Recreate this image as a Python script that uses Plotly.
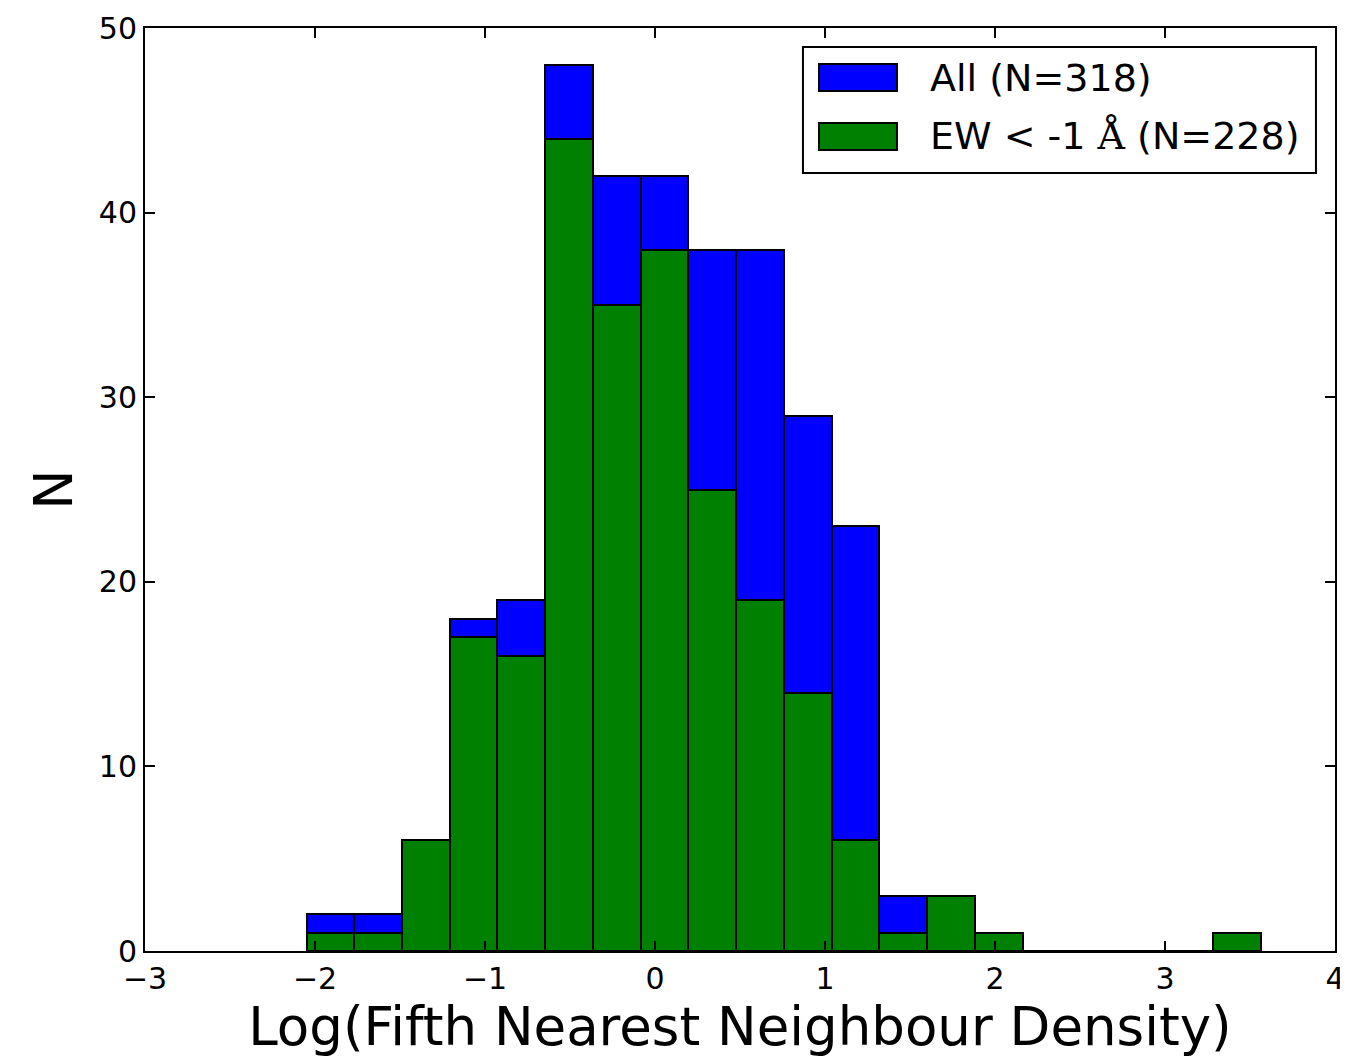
import numpy as np
import plotly.graph_objects as go

# Histogram bins (20 equal bins)
bin_start = -2.05
bin_width = 0.2808
n_bins = 20

counts_all = [2, 2, 6, 18, 19, 48, 42, 42, 38, 38, 29, 23, 3, 3, 1, 0, 0, 0, 0, 1]
counts_ew = [1, 1, 6, 17, 16, 44, 35, 38, 25, 19, 14, 6, 1, 3, 1, 0, 0, 0, 0, 1]

label_all = "All (N=318)"
label_ew = "EW &lt; -1 <span style='font-family:DejaVu Serif'>Å</span> (N=228)"

x_ticks = [-3, -2, -1, 0, 1, 2, 3, 4]
y_ticks = [0, 10, 20, 30, 40, 50]

edges = bin_start + bin_width * np.arange(n_bins + 1)
centers = (edges[:-1] + edges[1:]) / 2

BLUE = "#0000ff"
GREEN = "#008000"
FONT = "DejaVu Sans"

fig = go.Figure()
fig.add_trace(go.Bar(x=centers, y=counts_all, width=bin_width, marker=dict(color=BLUE, line=dict(color="black", width=2)),
                     name=label_all, showlegend=False))
fig.add_trace(go.Bar(x=centers, y=counts_ew, width=bin_width, marker=dict(color=GREEN, line=dict(color="black", width=2)),
                     name=label_ew, showlegend=False))

# custom legend (matplotlib style large patches)
L = dict(x0=0.5529, x1=0.9840, y0=0.8429, y1=0.9794)
fig.add_shape(type="rect", xref="paper", yref="paper", x0=L["x0"], x1=L["x1"], y0=L["y0"], y1=L["y1"],
              line=dict(color="black", width=2), fillcolor="white", layer="above")
for (y0, y1, col, txt) in [(0.9317, 0.9610, BLUE, label_all), (0.8678, 0.8971, GREEN, label_ew)]:
    fig.add_shape(type="rect", xref="paper", yref="paper", x0=0.5664, x1=0.6319, y0=y0, y1=y1,
                  line=dict(color="black", width=2), fillcolor=col, layer="above")
    fig.add_annotation(xref="paper", yref="paper", x=0.6580, y=(y0 + y1) / 2, text=txt, showarrow=False,
                       xanchor="left", yanchor="middle", font=dict(family=FONT, size=38, color="black"))

axis_common = dict(showline=True, linecolor="black", linewidth=2, mirror="ticks", ticks="inside",
                   ticklen=10, tickwidth=1.5, tickcolor="black", showgrid=False, zeroline=False,
                   automargin=False, tickfont=dict(family=FONT, size=30, color="black"))

# page body has an 8px margin; size the figure so the plot lands where the reference has it
fig.update_layout(
    barmode="overlay",
    bargap=0,
    width=1340, height=1054,
    paper_bgcolor="white", plot_bgcolor="white",
    margin=dict(l=137, r=13, t=20, b=111),
    font=dict(family=FONT, color="black"),
    xaxis=dict(range=[-3, 4], tickvals=x_ticks, title=dict(text="Log(Fifth Nearest Neighbour Density)",
               font=dict(family=FONT, size=53, color="black"), standoff=10), **axis_common),
    yaxis=dict(range=[0, 50], tickvals=y_ticks, title=dict(text="N", font=dict(family=FONT, size=54, color="black"),
               standoff=9), **axis_common),
)

fig.write_html("out.html")
